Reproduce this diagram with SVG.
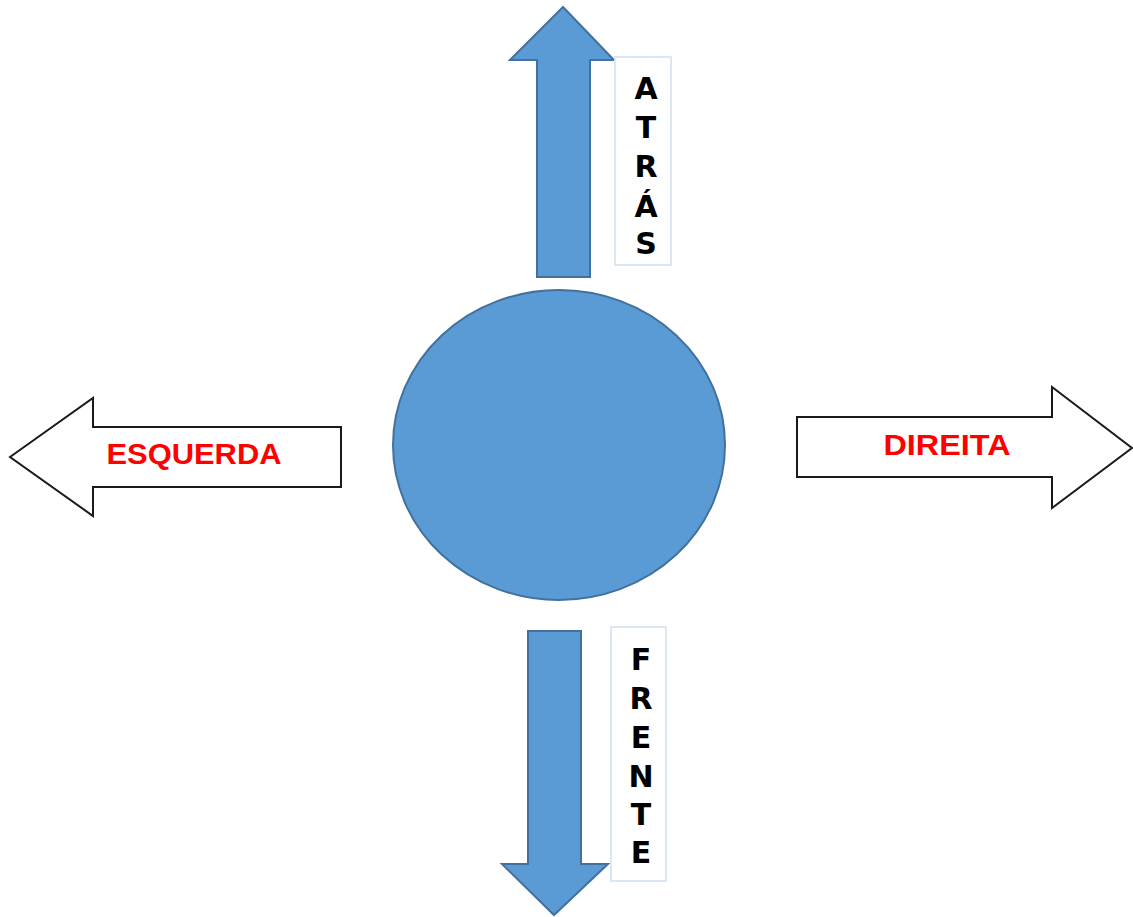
<svg xmlns="http://www.w3.org/2000/svg" width="1133" height="917" viewBox="0 0 1133 917">
<style>
.blue{fill:#5b9bd5;stroke:#41719c;stroke-width:2;stroke-linejoin:miter}
.white{fill:#ffffff;stroke:#1a1a1a;stroke-width:2}
.box{fill:#ffffff;stroke:#dbe7f5;stroke-width:2}
.vl{font-family:"DejaVu Sans",Verdana,sans-serif;font-weight:bold;font-size:30px;fill:#000;text-anchor:middle}
.red{font-family:"Liberation Sans",Arial,sans-serif;font-weight:bold;font-size:29px;fill:#ff0000;text-anchor:middle}
</style>
<rect width="1133" height="917" fill="#ffffff"/>
<g id="connectors">
<g id="arrow-up"><polygon class="blue" points="563,7 614,60 590,60 590,277 537,277 537,60 510,60"/></g>
<g id="arrow-down"><polygon class="blue" points="528,631 581,631 581,864 608,864 554,915 502,864 528,864"/></g>
<g id="arrow-left"><polygon class="white" points="10,457 93,398 93,427 341,427 341,487 93,487 93,516"/></g>
<g id="arrow-right"><polygon class="white" points="797,417 1052,417 1052,387 1132,448 1052,508 1052,477 797,477"/></g>
</g>
<g id="center"><ellipse class="blue" cx="559" cy="445" rx="166" ry="155"/></g>
<g id="atras">
<rect class="box" x="615" y="57" width="56" height="208"/>
<text class="vl" x="646" y="99">A</text>
<text class="vl" x="646" y="138">T</text>
<text class="vl" x="646" y="177">R</text>
<text class="vl" x="646" y="217">Á</text>
<text class="vl" x="646" y="254">S</text>
</g>
<g id="frente">
<rect class="box" x="611" y="627" width="55" height="254"/>
<text class="vl" x="641" y="670">F</text>
<text class="vl" x="641" y="709">R</text>
<text class="vl" x="641" y="748">E</text>
<text class="vl" x="641" y="787">N</text>
<text class="vl" x="641" y="825">T</text>
<text class="vl" x="641" y="863">E</text>
</g>
<g id="esquerda"><text class="red" x="194" y="464" textLength="175" lengthAdjust="spacingAndGlyphs">ESQUERDA</text></g>
<g id="direita"><text class="red" x="947" y="455" textLength="127" lengthAdjust="spacingAndGlyphs">DIREITA</text></g>
</svg>
